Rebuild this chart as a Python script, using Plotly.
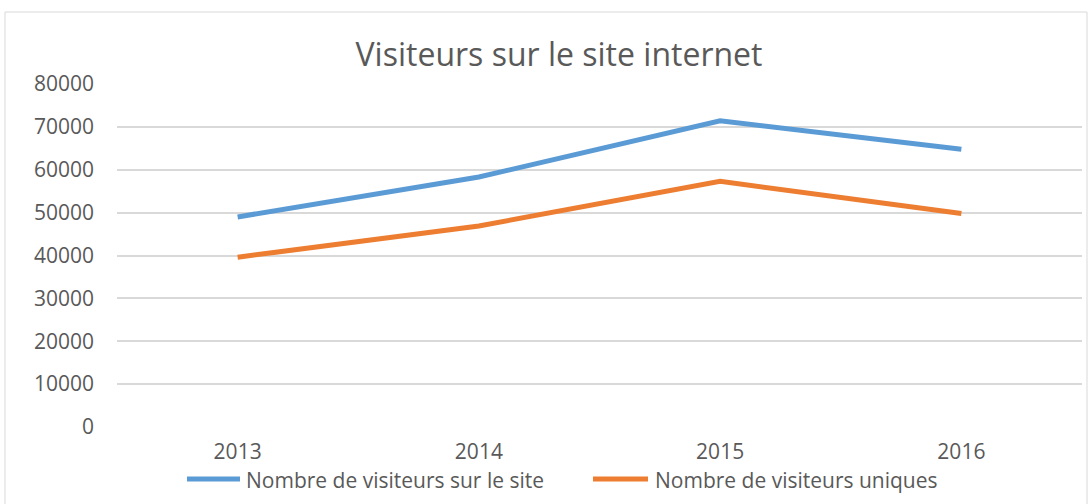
import plotly.graph_objects as go

years = ["2013", "2014", "2015", "2016"]
visiteurs_total = [49000, 58300, 71400, 64800]
visiteurs_uniques = [39600, 46900, 57300, 49800]
series_names = ["Nombre de visiteurs sur le site", "Nombre de visiteurs uniques"]
series_colors = ["#5B9BD5", "#ED7D31"]

FONT = "Open Sans, Roboto, sans-serif"
GREY = "#595959"

fig = go.Figure()
for name, vals, col in zip(series_names, [visiteurs_total, visiteurs_uniques], series_colors):
    fig.add_trace(go.Scatter(x=years, y=vals, mode="lines", name=name,
                             line=dict(color=col, width=5), showlegend=False))

L, R, T, B = 117, 10, 84, 77
W, H = 1092, 504
pw, ph = W - L - R, H - T - B


def px(x):
    return (x - L) / pw


def py(y):
    return (H - B - y) / ph


# custom legend (Excel-style long line samples)
LEG_Y = 480
legend_items = [(187, 240, 244), (593, 648, 653)]
shapes = [dict(type="rect", xref="paper", yref="paper",
               x0=px(5), x1=px(1087), y0=py(520), y1=py(12),
               line=dict(color="#d9d9d9", width=1), fillcolor="rgba(0,0,0,0)",
               layer="below")]
annotations = []
for (x0, x1, xt), name, col in zip(legend_items, series_names, series_colors):
    shapes.append(dict(type="line", xref="paper", yref="paper",
                       x0=px(x0), x1=px(x1), y0=py(LEG_Y - 1), y1=py(LEG_Y - 1),
                       line=dict(color=col, width=5)))
    annotations.append(dict(text=name, xref="paper", yref="paper", x=px(xt), y=py(LEG_Y),
                            xanchor="left", yanchor="middle", showarrow=False,
                            font=dict(family=FONT, size=21, color=GREY)))

fig.update_layout(
    width=W, height=H,
    margin=dict(l=L, r=R, t=T, b=B, autoexpand=False),
    paper_bgcolor="white", plot_bgcolor="white",
    font=dict(family=FONT, color=GREY, size=21),
    title=dict(text="Visiteurs sur le site internet", x=559 / W, xref="container",
               xanchor="center", y=1 - 55 / H, yref="container", yanchor="middle",
               font=dict(family=FONT, size=32, color=GREY)),
    xaxis=dict(type="category", range=[-0.5, 3.5], showgrid=False, showline=False,
               zeroline=False, ticks="", ticklabelstandoff=10,
               tickfont=dict(size=21, color=GREY)),
    yaxis=dict(range=[0, 80000], dtick=10000, tickformat="d", showgrid=True,
               gridcolor="#d9d9d9", gridwidth=1.5, zeroline=False, showline=False,
               ticks="", ticklabelstandoff=22, tickfont=dict(size=21, color=GREY)),
    showlegend=False,
    shapes=shapes,
    annotations=annotations,
)

fig.write_html("out.html", config={"displayModeBar": False},
               post_script="document.body.style.margin='0';")
